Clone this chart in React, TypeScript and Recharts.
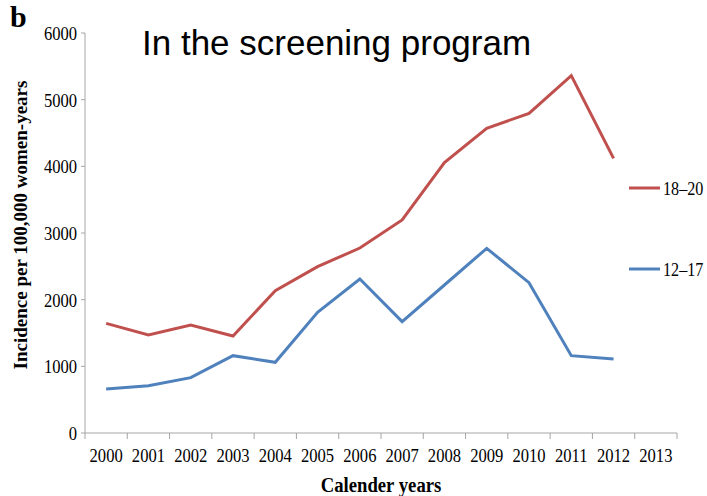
import React from 'react';
import { LineChart, Line, XAxis, YAxis, Customized } from 'recharts';

const years = [2000, 2001, 2002, 2003, 2004, 2005, 2006, 2007, 2008, 2009, 2010, 2011, 2012];
const age18to20 = [1645, 1470, 1620, 1455, 2135, 2495, 2775, 3195, 4055, 4570, 4795, 5360, 4120];
const age12to17 = [660, 710, 830, 1160, 1060, 1810, 2310, 1670, 2220, 2770, 2255, 1160, 1110];
const yearTicks = [2000, 2001, 2002, 2003, 2004, 2005, 2006, 2007, 2008, 2009, 2010, 2011, 2012, 2013];
const yTicks = [0, 1000, 2000, 3000, 4000, 5000, 6000];
const seriesNames = ['18\u201320', '12\u201317'];

const RED = '#c0504d';
const BLUE = '#4f81bd';
const AXIS = '#a6a6a6';
const SERIF = '"Liberation Serif", "Times New Roman", serif';

const W = 707;
const H = 496;
const PLOT_LEFT = 85;
const PLOT_RIGHT = 677;
const STEP = (PLOT_RIGHT - PLOT_LEFT) / yearTicks.length;
// the source figure's serif text is narrow and tall
const SQUEEZE = 0.85;

const data = years.map((year, i) => ({
  year,
  a: age18to20[i],
  b: age12to17[i],
}));

function NarrowText({ x, y, anchor, size, bold, children }: any) {
  return (
    <text
      transform={`translate(${x}, ${y}) scale(${SQUEEZE}, 1)`}
      textAnchor={anchor}
      fontFamily={SERIF}
      fontSize={size}
      fontWeight={bold ? 'bold' : 'normal'}
      fill="#000"
    >
      {children}
    </text>
  );
}

function YearTick(props: any) {
  const { x, y, payload, index } = props;
  const last = index === yearTicks.length - 1;
  return (
    <g>
      <line x1={x - STEP / 2} x2={x - STEP / 2} y1={y} y2={y + 6} stroke={AXIS} />
      {last && <line x1={x + STEP / 2} x2={x + STEP / 2} y1={y} y2={y + 6} stroke={AXIS} />}
      <NarrowText x={x} y={y + 29} anchor="middle" size={19.5}>
        {payload.value}
      </NarrowText>
    </g>
  );
}

function ValueTick(props: any) {
  const { x, y, payload } = props;
  return (
    <NarrowText x={x} y={y + 7} anchor="end" size={19.5}>
      {payload.value}
    </NarrowText>
  );
}

function Labels() {
  const legendColors = [RED, BLUE];
  const legendY = [188, 269];
  return (
    <g>
      <text x={10} y={27} fontFamily={SERIF} fontWeight="bold" fontSize={30} fill="#000">
        b
      </text>
      <text
        x={142}
        y={55}
        fontFamily='"Liberation Sans", Arial, sans-serif'
        fontSize={35}
        fill="#000"
      >
        In the screening program
      </text>
      <text
        transform="translate(27, 225) rotate(-90)"
        textAnchor="middle"
        fontFamily={SERIF}
        fontWeight="bold"
        fontSize={19}
        fill="#000"
      >
        Incidence per 100,000 women-years
      </text>
      <NarrowText x={381} y={492} anchor="middle" size={22} bold>
        Calender years
      </NarrowText>
      {seriesNames.map((name, i) => (
        <g key={name}>
          <line x1={629} x2={660} y1={legendY[i]} y2={legendY[i]} stroke={legendColors[i]} strokeWidth={3} />
          <NarrowText x={663} y={legendY[i] + 7} anchor="start" size={19}>
            {name}
          </NarrowText>
        </g>
      ))}
    </g>
  );
}

export default function App() {
  return (
    <div style={{ position: 'absolute', left: 0, top: 0, width: W, height: H, background: '#fff' }}>
      <LineChart width={W} height={H} data={data} margin={{ top: 33, right: W - PLOT_RIGHT, bottom: 33, left: 0 }}>
        <XAxis
          dataKey="year"
          type="number"
          domain={[1999.5, 2013.5]}
          ticks={yearTicks}
          interval={0}
          height={30}
          tickLine={false}
          tickSize={0}
          tickMargin={0}
          stroke={AXIS}
          tick={<YearTick />}
        />
        <YAxis
          domain={[0, 6000]}
          ticks={yTicks}
          width={PLOT_LEFT}
          tickSize={4}
          tickMargin={4}
          stroke={AXIS}
          tick={<ValueTick />}
        />
        <Line dataKey="a" name={seriesNames[0]} stroke={RED} strokeWidth={3} dot={false} isAnimationActive={false} />
        <Line dataKey="b" name={seriesNames[1]} stroke={BLUE} strokeWidth={3} dot={false} isAnimationActive={false} />
        <Customized component={<Labels />} />
      </LineChart>
    </div>
  );
}
